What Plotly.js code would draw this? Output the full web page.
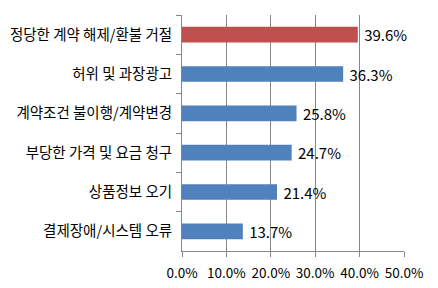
<!DOCTYPE html>
<html><head><meta charset="utf-8">
<script src="https://cdn.plot.ly/plotly-3.0.1.min.js"></script>
<style>html,body{margin:0;padding:0;background:#fff}#c{width:438px;height:288px}</style>
</head><body><div id="c"></div>
<script>
const categories = ["정당한 계약 해제/환불 거절","허위 및 과장광고","계약조건 불이행/계약변경","부당한 가격 및 요금 청구","상품정보 오기","결제장애/시스템 오류"];
const values = [39.6, 36.3, 25.8, 24.7, 21.4, 13.7];
const highlightColor = "#C0504D";
const baseColor = "#4F81BD";
const xTickVals = [0,10,20,30,40,50];
const xTickText = ["0.0%","10.0%","20.0%","30.0%","40.0%","50.0%"];

const font = "'Noto Sans CJK KR', 'Noto Sans', sans-serif";
Plotly.newPlot('c', [{
  type: 'bar', orientation: 'h',
  y: categories, x: values,
  marker: {color: values.map((v,i)=> i===0 ? highlightColor : baseColor)},
  text: values.map(v=>'\u00a0'+v.toFixed(1)+'%'),
  textposition: 'outside',
  constraintext: 'none',
  textfont: {family: font, size: 15, color: '#000'},
  cliponaxis: false,
  hoverinfo: 'none'
}], {
  width: 438, height: 288,
  margin: {l: 181.5, r: 33.5, t: 15, b: 36.5},
  paper_bgcolor: '#fff', plot_bgcolor: '#fff',
  bargap: 0.6,
  showlegend: false,
  xaxis: {
    range: [0,50], tickvals: xTickVals, ticktext: xTickText,
    showgrid: true, gridcolor: '#868686', gridwidth: 1,
    zeroline: false, showline: true, linecolor: '#868686',
    ticks: 'outside', ticklen: 5, tickcolor: '#868686',
    ticklabelstandoff: 5,
    tickfont: {family: font, size: 13.5, color: '#000'}
  },
  yaxis: {
    type: 'category', autorange: 'reversed',
    showline: true, linecolor: '#868686',
    ticks: 'outside', tickson: 'boundaries', ticklen: 5, tickcolor: '#868686',
    showgrid: false, zeroline: false,
    ticklabelstandoff: 6,
    tickfont: {family: font, size: 14.5, color: '#000'}
  }
}, {staticPlot: true});
</script></body></html>
